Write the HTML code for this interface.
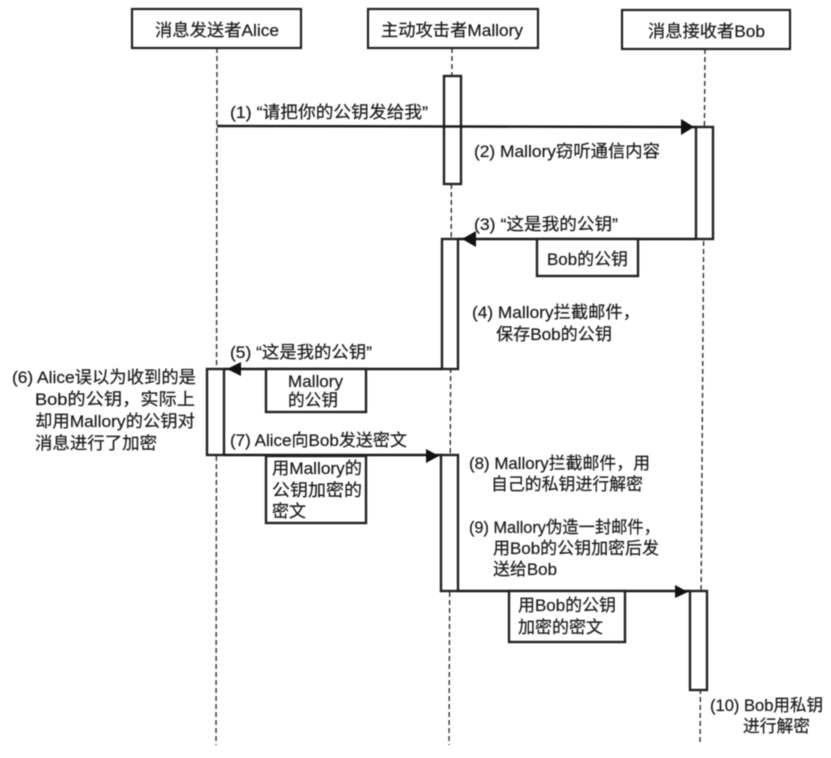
<!DOCTYPE html>
<html lang="zh">
<head>
<meta charset="utf-8">
<title>Sequence diagram</title>
<style>
html,body{margin:0;padding:0;background:#fff;width:831px;height:758px;overflow:hidden}
svg{display:block;filter:blur(.4px)}
text{font-family:"Liberation Sans","Noto Sans CJK SC",sans-serif;font-size:17px;fill:#1a1a1a;stroke:#1a1a1a;stroke-width:.2}
.b{fill:#fff;stroke:#222;stroke-width:2.4}
.t{fill:#fff;stroke:#222;stroke-width:2.2}
.a{fill:#fff;stroke:#222;stroke-width:2.4}
.l{stroke:#222;stroke-width:1.3;stroke-dasharray:5 3;fill:none}
.m{stroke:#1a1a1a;stroke-width:2.4;fill:none}
.h{fill:#111}
</style>
</head>
<body>
<svg width="831" height="758" viewBox="0 0 831 758" xmlns="http://www.w3.org/2000/svg">
<rect width="831" height="758" fill="#fff"/>
<path class="l" d="M217 48L216 745"/>
<path class="l" d="M452 48L449 745"/>
<path class="l" d="M705 49L700 745"/>

<rect class="t" x="132" y="9" width="169" height="39"/>
<rect class="t" x="368" y="9" width="170" height="39"/>
<rect class="t" x="622" y="10" width="168" height="39"/>

<rect class="a" x="444" y="76" width="17" height="108"/>
<rect class="a" x="696" y="127" width="17" height="112"/>
<rect class="a" x="442" y="239" width="16" height="130"/>
<rect class="a" x="207" y="369" width="17" height="86"/>
<rect class="a" x="441" y="455" width="17" height="136"/>
<rect class="a" x="690" y="591" width="17" height="99"/>

<path class="m" d="M217 126L696 127"/><path class="h" d="M681 119L694 127L681 135Z"/>
<path class="m" d="M696 239L458 239"/><path class="h" d="M476 231L462 239L476 247Z"/>
<path class="m" d="M442 369L224 369"/><path class="h" d="M241 362L227 369L241 376Z"/>
<path class="m" d="M224 455L441 455"/><path class="h" d="M426 449L439 456L426 463Z"/>
<path class="m" d="M458 591L690 591"/><path class="h" d="M675 585L688 592L675 598Z"/>

<rect class="b" x="537" y="239" width="101" height="37"/>
<rect class="b" x="266" y="369" width="100" height="43"/>
<rect class="b" x="266" y="456" width="100" height="67"/>
<rect class="b" x="509" y="591" width="116" height="51"/>

<text x="155" y="36" textLength="124" lengthAdjust="spacingAndGlyphs">消息发送者Alice</text>
<text x="381" y="36" textLength="142" lengthAdjust="spacingAndGlyphs">主动攻击者Mallory</text>
<text x="648" y="37" textLength="117" lengthAdjust="spacingAndGlyphs">消息接收者Bob</text>

<text x="230" y="118" textLength="198" lengthAdjust="spacingAndGlyphs">(1) “请把你的公钥发给我”</text>
<text x="474" y="157" textLength="186" lengthAdjust="spacingAndGlyphs">(2) Mallory窃听通信内容</text>
<text x="474" y="230" textLength="144" lengthAdjust="spacingAndGlyphs">(3) “这是我的公钥”</text>
<text x="547" y="265" textLength="81" lengthAdjust="spacingAndGlyphs">Bob的公钥</text>
<text x="472" y="318" textLength="168" lengthAdjust="spacingAndGlyphs">(4) Mallory拦截邮件，</text>
<text x="496" y="340" textLength="116" lengthAdjust="spacingAndGlyphs">保存Bob的公钥</text>
<text x="230" y="358" textLength="142" lengthAdjust="spacingAndGlyphs">(5) “这是我的公钥”</text>
<text x="288" y="387" textLength="55" lengthAdjust="spacingAndGlyphs">Mallory</text>
<text x="288" y="406" textLength="50" lengthAdjust="spacingAndGlyphs">的公钥</text>
<text x="12" y="383" textLength="184" lengthAdjust="spacingAndGlyphs">(6) Alice误以为收到的是</text>
<text x="35" y="405" textLength="160" lengthAdjust="spacingAndGlyphs">Bob的公钥，实际上</text>
<text x="35" y="427" textLength="160" lengthAdjust="spacingAndGlyphs">却用Mallory的公钥对</text>
<text x="35" y="449" textLength="122" lengthAdjust="spacingAndGlyphs">消息进行了加密</text>
<text x="230" y="446" textLength="177" lengthAdjust="spacingAndGlyphs">(7) Alice向Bob发送密文</text>
<text x="272" y="474" textLength="90" lengthAdjust="spacingAndGlyphs">用Mallory的</text>
<text x="272" y="496" textLength="90" lengthAdjust="spacingAndGlyphs">公钥加密的</text>
<text x="272" y="517" textLength="34" lengthAdjust="spacingAndGlyphs">密文</text>
<text x="469" y="469" textLength="181" lengthAdjust="spacingAndGlyphs">(8) Mallory拦截邮件，用</text>
<text x="491" y="490" textLength="152" lengthAdjust="spacingAndGlyphs">自己的私钥进行解密</text>
<text x="469" y="533" textLength="191" lengthAdjust="spacingAndGlyphs">(9) Mallory伪造一封邮件，</text>
<text x="493" y="554" textLength="166" lengthAdjust="spacingAndGlyphs">用Bob的公钥加密后发</text>
<text x="493" y="575" textLength="64" lengthAdjust="spacingAndGlyphs">送给Bob</text>
<text x="518" y="611" textLength="98" lengthAdjust="spacingAndGlyphs">用Bob的公钥</text>
<text x="518" y="633" textLength="85" lengthAdjust="spacingAndGlyphs">加密的密文</text>
<text x="710" y="711" textLength="113" lengthAdjust="spacingAndGlyphs">(10) Bob用私钥</text>
<text x="743" y="732" textLength="67" lengthAdjust="spacingAndGlyphs">进行解密</text>
</svg>
</body>
</html>
